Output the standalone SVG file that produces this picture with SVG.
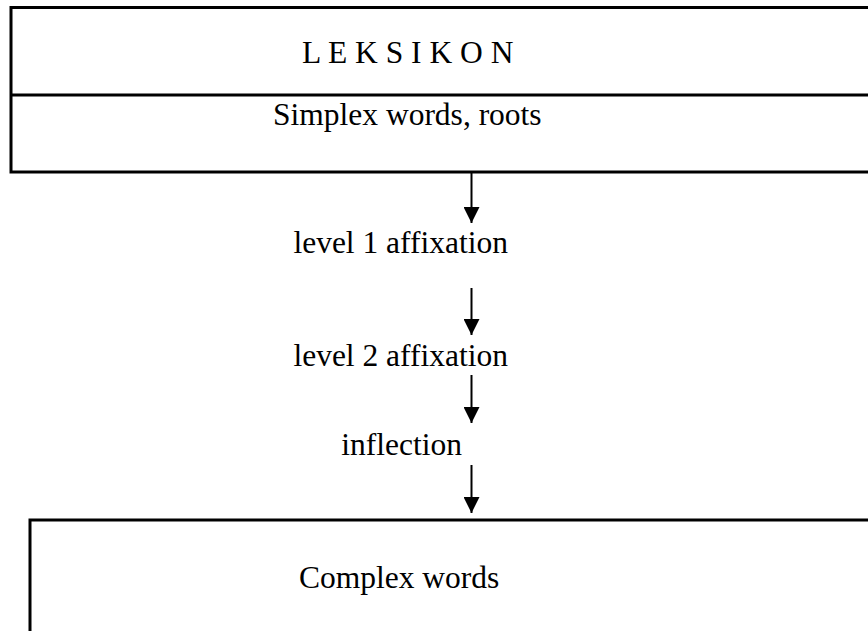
<svg xmlns="http://www.w3.org/2000/svg" width="868" height="631" viewBox="0 0 868 631">
  <style>
    .box { fill: #ffffff; stroke: #000000; stroke-width: 3; }
    .rule { stroke: #000000; stroke-width: 3; }
    .label { font-family: "Liberation Serif", "Times New Roman", serif; font-size: 31.5px; fill: #000000; }
    .flow { stroke: #000000; stroke-width: 2; fill: none; }
  </style>
  <defs>
    <marker id="head" viewBox="0 0 16 16" refX="16" refY="8" markerWidth="16" markerHeight="16" markerUnits="userSpaceOnUse" orient="auto">
      <path d="M0,0 L16,8 L0,16 Z" fill="#000000"/>
    </marker>
  </defs>
  <rect width="868" height="631" fill="#ffffff"/>

  <!-- lexicon block -->
  <g id="leksikon">
    <rect class="box" x="11" y="7.5" width="880" height="164.5"/>
    <line class="rule" x1="11" y1="95" x2="891" y2="95"/>
    <text class="label" x="302" y="63">L E K S I K O N</text>
    <text class="label" x="273" y="125">Simplex words, roots</text>
  </g>

  <g id="level1">
    <text class="label" x="508" y="253" text-anchor="end">level 1 affixation</text>
  </g>
  <g id="level2">
    <text class="label" x="508" y="366" text-anchor="end">level 2 affixation</text>
  </g>
  <g id="inflection">
    <text class="label" x="462" y="455" text-anchor="end">inflection</text>
  </g>

  <!-- output block -->
  <g id="complex">
    <rect class="box" x="30" y="520" width="870" height="140"/>
    <text class="label" x="299" y="588">Complex words</text>
  </g>

  <g id="connectors">
    <line class="flow" x1="471.5" y1="173" x2="471.5" y2="223" marker-end="url(#head)"/>
    <line class="flow" x1="471.5" y1="288" x2="471.5" y2="335" marker-end="url(#head)"/>
    <line class="flow" x1="471.5" y1="375" x2="471.5" y2="423" marker-end="url(#head)"/>
    <line class="flow" x1="471.5" y1="465" x2="471.5" y2="513" marker-end="url(#head)"/>
  </g>
</svg>
